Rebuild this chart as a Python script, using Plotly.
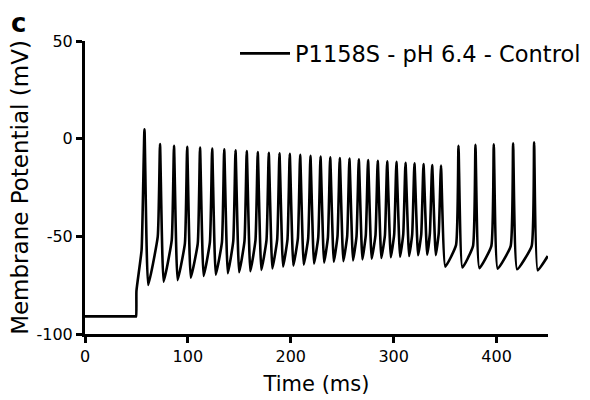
import plotly.graph_objects as go

# ---- data ----
# resting segment before current injection (ms, mV)
pre_t = [0.0, 25.0, 48.8, 49.7, 50.0, 55.0]
pre_v = [-91.0, -91.0, -91.0, -91.0, -78.0, -57.0]

# action potential peaks (ms, mV)
peak_t = [57.8, 72.9, 86.5, 99.3, 111.8, 123.6, 135.3, 146.3, 157.2, 167.9,
          178.6, 189.0, 199.0, 209.1, 219.1, 228.9, 238.3, 247.6, 257.0, 266.1,
          275.1, 284.5, 293.7, 302.7, 311.5, 320.2, 329.0, 337.4, 346.0,
          363.0, 379.5, 397.3, 416.1, 436.5]
peak_v = [4.8, -2.7, -3.6, -4.1, -4.6, -5.1, -5.4, -5.9, -6.3, -6.8,
          -7.2, -7.5, -7.8, -8.3, -8.8, -9.2, -9.5, -9.9, -10.2, -10.5,
          -10.9, -11.3, -11.6, -11.9, -12.3, -12.6, -13.0, -13.5, -13.8,
          -3.6, -3.2, -2.9, -2.4, -1.8]

# after-hyperpolarisation troughs following each spike (ms, mV)
trough_t = [61.4, 76.4, 90.0, 102.8, 115.3, 127.1, 138.8, 149.8, 160.7, 171.4,
            182.1, 192.5, 202.5, 212.6, 222.6, 232.4, 241.8, 251.1, 260.5, 269.6,
            278.6, 288.0, 297.2, 306.2, 315.0, 323.7, 332.5, 340.9, 350.2,
            366.8, 383.3, 401.1, 420.0, 440.0]
trough_v = [-74.9, -73.2, -72.4, -71.2, -70.3, -69.6, -68.9, -68.4, -67.9, -67.2,
            -66.5, -65.5, -65.0, -64.5, -64.0, -63.5, -63.0, -62.7, -62.3, -61.8,
            -61.4, -61.1, -60.7, -60.4, -60.1, -59.7, -59.4, -59.6, -65.5,
            -66.0, -66.3, -66.6, -66.9, -67.4]

# spike threshold "knee" before spikes 2..34 (ms, mV)
knee_t = [70.7, 84.3, 97.1, 109.6, 121.4, 133.1, 144.1, 155.0, 165.7, 176.4,
          186.8, 196.8, 206.9, 216.9, 226.7, 236.1, 245.4, 254.8, 263.9, 272.9,
          282.3, 291.5, 300.5, 309.3, 318.0, 326.8, 335.2, 343.8,
          360.6, 377.1, 394.9, 413.7, 434.1]
knee_v = [-50.2, -51.9, -53.6, -53.6, -53.0, -53.0, -52.5, -52.5, -52.0, -52.0,
          -51.5, -51.5, -51.0, -51.0, -50.5, -50.5, -50.0, -50.0, -50.0, -49.5,
          -49.5, -49.5, -49.0, -49.0, -49.0, -49.0, -48.5, -48.5,
          -54.5, -55.0, -55.0, -55.0, -55.0]

end_t = [449.8]
end_v = [-60.1]

x_ticks = [0, 100, 200, 300, 400]
x_ticktext = ["0", "100", "200", "300", "400"]
y_ticks = [-100, -50, 0, 50]
y_ticktext = ["-100", "-50", "0", "50"]

series_name = "P1158S - pH 6.4 - Control"
x_title = "Time (ms)"
y_title = "Membrane Potential (mV)"
panel_label = "c"

# ---- assemble trace vertices from the read features ----
t = list(pre_t)
v = list(pre_v)
for i in range(len(peak_t)):
    if i > 0:
        t.append(knee_t[i - 1]); v.append(knee_v[i - 1])
    t.append(peak_t[i]); v.append(peak_v[i])
    t.append(trough_t[i]); v.append(trough_v[i])
t += end_t
v += end_v

FONT = "DejaVu Sans"

fig = go.Figure()
fig.add_trace(go.Scatter(
    x=t, y=v, mode="lines", name=series_name,
    line=dict(color="black", width=2.6, shape="spline", smoothing=0.4),
    showlegend=True,
))

axis_common = dict(
    showline=True, linewidth=3, linecolor="black",
    ticks="outside", tickwidth=3, ticklen=6, tickcolor="black",
    showgrid=False, zeroline=False,
    tickfont=dict(family=FONT, size=16, color="black"),
)

fig.update_layout(
    width=590, height=400,
    margin=dict(l=85, r=42, t=41, b=66, autoexpand=False),
    paper_bgcolor="white", plot_bgcolor="white",
    font=dict(family=FONT, color="black"),
    xaxis=dict(range=[0, 450], tickvals=x_ticks, ticktext=x_ticktext,
               title=dict(text=x_title, font=dict(family=FONT, size=21), standoff=12),
               **axis_common),
    yaxis=dict(range=[-100, 50], tickvals=y_ticks, ticktext=y_ticktext,
               title=dict(text=y_title, font=dict(family=FONT, size=23), standoff=2),
               **axis_common),
    legend=dict(x=0.324, y=1.03, xanchor="left", yanchor="top",
                font=dict(family=FONT, size=22.5, color="black"),
                bgcolor="rgba(0,0,0,0)", itemwidth=50),
    annotations=[dict(text="<b>" + panel_label + "</b>", xref="paper", yref="paper",
                      x=-0.165, y=1.06, xanchor="left", yanchor="middle",
                      showarrow=False, font=dict(family=FONT, size=26, color="black"))],
)

fig.write_html("out.html")
